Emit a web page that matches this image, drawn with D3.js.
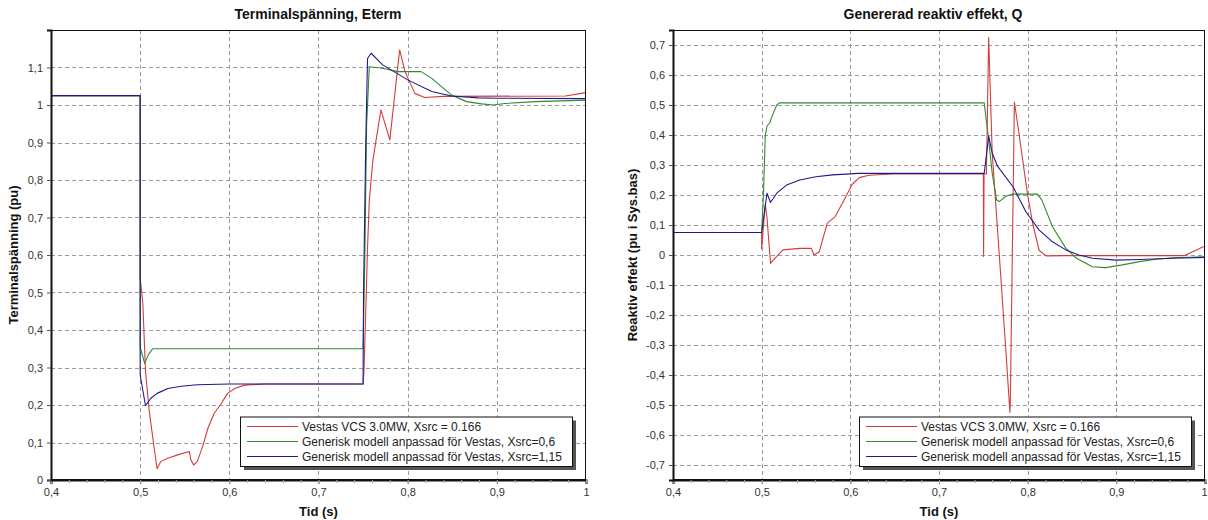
<!DOCTYPE html>
<html><head><meta charset="utf-8">
<script src="https://cdn.jsdelivr.net/npm/d3@7/dist/d3.min.js"></script>
<style>
html,body{margin:0;padding:0;background:#fff;}
svg{display:block;font-family:"Liberation Sans",Arial,sans-serif;}
</style></head>
<body>
<svg id="chart" width="1208" height="520"></svg>
<script>
// ---------- DATA ----------
const seriesNames = [
  "Vestas VCS 3.0MW, Xsrc = 0.166",
  "Generisk modell anpassad för Vestas, Xsrc=0,6",
  "Generisk modell anpassad för Vestas, Xsrc=1,15"
];
const seriesColors = ["#d23c3c", "#2f8a2f", "#1c1c8a"];

const xTicks = [0.4, 0.5, 0.6, 0.7, 0.8, 0.9, 1.0];
const eTermTicks = [0, 0.1, 0.2, 0.3, 0.4, 0.5, 0.6, 0.7, 0.8, 0.9, 1.0, 1.1];
const qTicks = [-0.7, -0.6, -0.5, -0.4, -0.3, -0.2, -0.1, 0, 0.1, 0.2, 0.3, 0.4, 0.5, 0.6, 0.7];

// Terminal voltage (pu), [time s, value]
const eTermVestas = [[0.4,1.025],[0.5,1.025],[0.5,0.54],[0.503,0.47],[0.506,0.29],[0.51,0.187],[0.516,0.08],[0.519,0.03],[0.523,0.049],[0.531,0.058],[0.542,0.067],[0.555,0.076],[0.557,0.053],[0.56,0.04],[0.564,0.049],[0.57,0.089],[0.576,0.138],[0.583,0.178],[0.591,0.204],[0.598,0.231],[0.606,0.244],[0.617,0.253],[0.64,0.256],[0.75,0.256],[0.751,0.29],[0.753,0.45],[0.755,0.62],[0.757,0.747],[0.761,0.853],[0.77,0.987],[0.78,0.907],[0.791,1.147],[0.797,1.089],[0.808,1.031],[0.819,1.02],[0.84,1.023],[0.977,1.024],[1.0,1.033]];
const eTermGen06 = [[0.4,1.025],[0.5,1.025],[0.5,0.355],[0.505,0.311],[0.509,0.333],[0.514,0.35],[0.75,0.35],[0.752,0.6],[0.754,0.95],[0.757,1.102],[0.772,1.098],[0.789,1.089],[0.815,1.089],[0.827,1.071],[0.849,1.027],[0.866,1.009],[0.883,1.003],[0.896,1.0],[0.909,1.004],[0.943,1.009],[1.0,1.013]];
const eTermGen115 = [[0.4,1.025],[0.5,1.025],[0.5,0.28],[0.506,0.198],[0.512,0.218],[0.519,0.231],[0.531,0.244],[0.546,0.25],[0.564,0.254],[0.6,0.256],[0.75,0.256],[0.7505,0.5],[0.753,0.9],[0.755,1.124],[0.759,1.138],[0.772,1.107],[0.8,1.067],[0.827,1.036],[0.849,1.024],[0.879,1.019],[0.9,1.018],[1.0,1.017]];

// Reactive power Q (pu i Sys.bas), [time s, value]
const qVestas = [[0.4,0.075],[0.5,0.075],[0.5,0.02],[0.504,0.169],[0.506,0.125],[0.51,-0.028],[0.513,-0.017],[0.524,0.017],[0.543,0.022],[0.556,0.022],[0.559,0.0],[0.565,0.011],[0.574,0.106],[0.583,0.128],[0.594,0.189],[0.602,0.235],[0.61,0.258],[0.621,0.266],[0.648,0.27],[0.75,0.27],[0.7503,-0.005],[0.7508,0.27],[0.7535,0.27],[0.756,0.725],[0.76,0.34],[0.768,0.0],[0.775,-0.3],[0.78,-0.525],[0.7805,-0.48],[0.785,0.51],[0.79,0.41],[0.796,0.283],[0.8,0.2],[0.806,0.1],[0.813,0.015],[0.821,-0.003],[0.84,-0.002],[0.977,-0.002],[1.0,0.03]];
const qGen06 = [[0.4,0.075],[0.5,0.075],[0.502,0.2],[0.504,0.395],[0.506,0.43],[0.509,0.44],[0.513,0.472],[0.517,0.5],[0.52,0.507],[0.751,0.507],[0.756,0.384],[0.76,0.273],[0.765,0.183],[0.768,0.178],[0.775,0.195],[0.783,0.203],[0.811,0.203],[0.816,0.183],[0.828,0.094],[0.843,0.023],[0.855,-0.011],[0.873,-0.039],[0.888,-0.042],[0.907,-0.033],[0.926,-0.022],[0.945,-0.014],[0.964,-0.009],[1.0,-0.006]];
const qGen115 = [[0.4,0.075],[0.5,0.075],[0.506,0.206],[0.51,0.175],[0.517,0.206],[0.528,0.233],[0.543,0.25],[0.561,0.261],[0.58,0.267],[0.609,0.272],[0.751,0.272],[0.756,0.396],[0.76,0.34],[0.766,0.296],[0.784,0.225],[0.798,0.144],[0.813,0.083],[0.828,0.044],[0.843,0.017],[0.858,0.0],[0.873,-0.011],[0.9,-0.017],[0.926,-0.015],[0.964,-0.011],[1.0,-0.008]];

// ---------- DRAW ----------
const svLocale = d3.formatLocale({decimal: ",", thousands: " ", grouping: [3], currency: ["", ""], minus: "-"});
const fmt = svLocale.format(".1~f");
const svg = d3.select("#chart");

function drawChart(cfg) {
  const g = svg.append("g");
  const x = d3.scaleLinear().domain([0.4, 1.0]).range([cfg.left, cfg.right]);
  const y = d3.scaleLinear().domain(cfg.yDomain).range([cfg.bottom, cfg.top]);

  // grid
  const grid = g.append("g").attr("stroke", "#9a9a9a").attr("stroke-width", 1).attr("stroke-dasharray", "4,3");
  grid.selectAll("line.v").data(xTicks.slice(1, -1)).join("line")
    .attr("x1", d => Math.round(x(d)) + 0.5).attr("x2", d => Math.round(x(d)) + 0.5)
    .attr("y1", cfg.top).attr("y2", cfg.bottom);
  grid.selectAll("line.h").data(cfg.yTicks).join("line")
    .attr("y1", d => Math.round(y(d)) + 0.5).attr("y2", d => Math.round(y(d)) + 0.5)
    .attr("x1", cfg.left).attr("x2", cfg.right);

  // series
  const line = d3.line().x(d => x(d[0])).y(d => y(d[1]));
  const clipId = "clip" + cfg.id;
  g.append("clipPath").attr("id", clipId).append("rect")
    .attr("x", cfg.left).attr("y", cfg.top).attr("width", cfg.right - cfg.left).attr("height", cfg.bottom - cfg.top);
  const lines = g.append("g").attr("clip-path", `url(#${clipId})`);
  cfg.series.forEach((s, i) => {
    lines.append("path").datum(s).attr("d", line).attr("fill", "none")
      .attr("stroke", seriesColors[i]).attr("stroke-width", 1.1).attr("stroke-linejoin", "round");
  });

  // frame
  g.append("rect").attr("x", cfg.left + 0.5).attr("y", cfg.top + 0.5)
    .attr("width", cfg.right - cfg.left - 1).attr("height", cfg.bottom - cfg.top - 1)
    .attr("fill", "none").attr("stroke", "#111").attr("stroke-width", 1);

  // axes
  const xAxis = d3.axisBottom(x).tickValues(xTicks).tickFormat(fmt).tickSize(4).tickPadding(4);
  const xa = g.append("g").attr("transform", `translate(0,${cfg.bottom})`).call(xAxis);
  const xMinor = d3.axisBottom(x).ticks(30).tickFormat("").tickSize(3);
  const xm = g.append("g").attr("transform", `translate(0,${cfg.bottom})`).call(xMinor);
  xm.select(".domain").remove();
  xm.selectAll(".tick line").attr("stroke", "#aaa");
  xa.select(".domain").attr("stroke", "#111").attr("stroke-width", 2);
  xa.selectAll(".tick line").attr("stroke", "#555");
  xa.selectAll("text").attr("font-size", 11).attr("fill", "#333").attr("font-family", "Liberation Sans, Arial, sans-serif");
  if (cfg.clampLast) {
    xa.selectAll("text").filter(d => d === 1.0).attr("text-anchor", "end").attr("dx", 2);
  }

  const yAxis = d3.axisLeft(y).tickValues(cfg.yTicks).tickFormat(fmt).tickSize(4).tickPadding(4);
  const ya = g.append("g").attr("transform", `translate(${cfg.left},0)`).call(yAxis);
  ya.select(".domain").attr("stroke", "#111").attr("stroke-width", 2);
  ya.selectAll(".tick line").attr("stroke", "#555");
  ya.selectAll("text").attr("font-size", 11).attr("fill", "#333").attr("font-family", "Liberation Sans, Arial, sans-serif");

  // titles
  g.append("text").attr("x", cfg.titleX).attr("y", 19).attr("text-anchor", "middle")
    .attr("font-size", 14).attr("font-weight", "bold").attr("fill", "#111").text(cfg.title);
  g.append("text").attr("x", (cfg.left + cfg.right) / 2).attr("y", 516).attr("text-anchor", "middle")
    .attr("font-size", 13).attr("font-weight", "bold").attr("fill", "#111").text("Tid (s)");
  g.append("text").attr("transform", `translate(${cfg.yLabelX},${(cfg.top + cfg.bottom) / 2}) rotate(-90)`)
    .attr("text-anchor", "middle").attr("font-size", 13).attr("font-weight", "bold").attr("fill", "#111").text(cfg.yLabel);

  // legend
  const lw = 332, lh = 49.5;
  const lx = cfg.right - 14 - lw, ly = cfg.bottom - 14 - lh;
  const lg = g.append("g").attr("transform", `translate(${lx},${ly})`);
  lg.append("rect").attr("x", 4).attr("y", 4).attr("width", lw).attr("height", lh).attr("fill", "#555");
  lg.append("rect").attr("x", 0.5).attr("y", 0.5).attr("width", lw).attr("height", lh)
    .attr("fill", "#fff").attr("stroke", "#111").attr("stroke-width", 1);
  seriesNames.forEach((n, i) => {
    const yy = 10 + i * 15;
    lg.append("line").attr("x1", 7).attr("x2", 58).attr("y1", yy).attr("y2", yy)
      .attr("stroke", seriesColors[i]).attr("stroke-width", 1.1);
    lg.append("text").attr("x", 62).attr("y", yy + 4).attr("font-size", 12).attr("fill", "#222").text(n);
  });
}

drawChart({
  id: "E", left: 51, right: 586, top: 30, bottom: 480,
  yDomain: [0, 1.2], yTicks: eTermTicks,
  series: [eTermVestas, eTermGen06, eTermGen115],
  title: "Terminalspänning, Eterm", titleX: 318,
  yLabel: "Terminalspänning (pu)", yLabelX: 18, clampLast: false
});
drawChart({
  id: "Q", left: 673, right: 1205, top: 30, bottom: 480,
  yDomain: [-0.75, 0.75], yTicks: qTicks,
  series: [qVestas, qGen06, qGen115],
  title: "Genererad reaktiv effekt, Q", titleX: 933,
  yLabel: "Reaktiv effekt (pu i Sys.bas)", yLabelX: 637, clampLast: true
});
</script>
</body></html>
